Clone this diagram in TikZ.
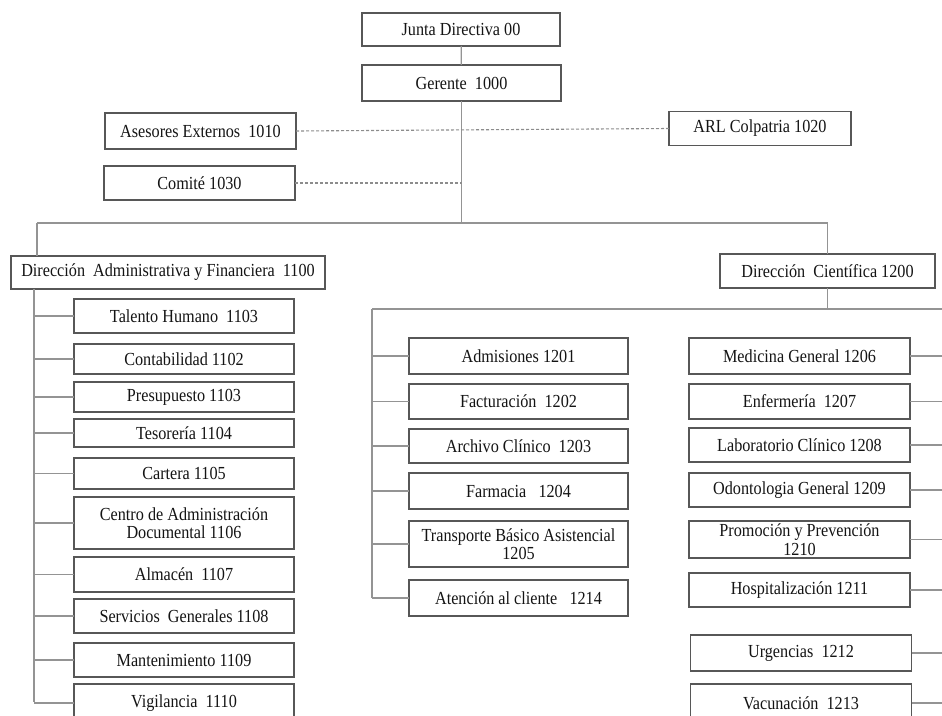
\documentclass[tikz,border=0pt]{standalone}
\usepackage{fontspec}
\setmainfont{Liberation Serif}[FakeStretch=0.88]
\begin{document}
\begin{tikzpicture}[x=1pt,y=-1pt,
  box/.style={draw=black!66,line width=1.8pt,fill=white,inner sep=0pt,outer sep=0pt,
    align=center,font=\fontsize{18.4}{18.5}\selectfont,text=black!92},
  conn/.style={draw=black!42,line width=1.3pt},
  dconn/.style={draw=black!45,line width=1.1pt,dash pattern=on 3pt off 2pt}]
\useasboundingbox (0,0) rectangle (942,715);
\clip (0,0) rectangle (942,715);
% top
\node[box,minimum width=198,minimum height=33] (junta) at (461,29.5) {Junta Directiva 00};
\node[box,minimum width=199,minimum height=36] (ger) at (461.5,83) {Gerente\ \ 1000};
\node[box,minimum width=191,minimum height=36] (ases) at (200.5,131) {Asesores Externos\ \ 1010};
\node[box,minimum width=182,minimum height=34] (arl) at (760,128.5) {ARL Colpatria 1020};
\node[box,minimum width=191,minimum height=34] (comite) at (199.5,183) {Comité 1030};
\node[box,minimum width=314,minimum height=33] (dadm) at (168,272.5) {Dirección\ \ Administrativa y Financiera\ \ 1100};
\node[box,minimum width=215,minimum height=34] (dcie) at (827.5,271) {Dirección\ \ Científica 1200};
% left column
\begin{scope}[every node/.style={box,minimum width=220}]
\node[minimum height=34] (th) at (184,316) {Talento Humano\ \ 1103};
\node[minimum height=30] (cont) at (184,359) {Contabilidad 1102};
\node[minimum height=30] (pres) at (184,397) {Presupuesto 1103};
\node[minimum height=28] (tes) at (184,433) {Tesorería 1104};
\node[minimum height=31] (cart) at (184,473.5) {Cartera 1105};
\node[minimum height=52] (cad) at (184,523) {Centro de Administración\\Documental 1106};
\node[minimum height=35] (alm) at (184,574.5) {Almacén\ \ 1107};
\node[minimum height=34] (sg) at (184,616) {Servicios\ \ Generales 1108};
\node[minimum height=34] (mant) at (184,660) {Mantenimiento 1109};
\node[minimum height=38] (vig) at (184,703) {Vigilancia\ \ 1110};
\end{scope}
% middle column
\begin{scope}[every node/.style={box,minimum width=219}]
\node[minimum height=36] (adm) at (518.5,356) {Admisiones 1201};
\node[minimum height=35] (fac) at (518.5,401.5) {Facturación\ \ 1202};
\node[minimum height=34] (arch) at (518.5,446) {Archivo Clínico\ \ 1203};
\node[minimum height=36] (farm) at (518.5,491) {Farmacia\ \ \ 1204};
\node[minimum height=46] (trans) at (518.5,544) {Transporte Básico Asistencial\\1205};
\node[minimum height=36] (aten) at (518.5,598) {Atención al cliente\ \ \ 1214};
\end{scope}
% right column
\begin{scope}[every node/.style={box,minimum width=221}]
\node[minimum height=36] (med) at (799.5,356) {Medicina General 1206};
\node[minimum height=35] (enf) at (799.5,401.5) {Enfermería\ \ 1207};
\node[minimum height=34] (lab) at (799.5,445) {Laboratorio Clínico 1208};
\node[minimum height=34] (odon) at (799.5,490) {Odontologia General 1209};
\node[minimum height=37] (prom) at (799.5,539.5) {Promoción y Prevención\\1210};
\node[minimum height=34] (hosp) at (799.5,590) {Hospitalización 1211};
\node[minimum height=36] (urg) at (801,653) {Urgencias\ \ 1212};
\node[minimum height=38] (vac) at (801,703) {Vacunación\ \ 1213};
\end{scope}
% coordinates
\coordinate (hub) at (ger.south |- 0,223);
\coordinate (lhub) at (37,223);
\coordinate (rhub) at (dcie.north |- 0,223);
\coordinate (lspine) at (34,702);
\coordinate (chub) at (dcie.south |- 0,309);
\coordinate (mtop) at (372,309);
\coordinate (mbot) at (372,598);
\coordinate (redge) at (942,309);
% connectors
\draw[conn] (junta) -- (ger);
\draw[conn] (ger.south) -- (hub);
\draw[conn] (lhub) -- (rhub);
\draw[conn] (lhub) -- (lhub |- dadm.north);
\draw[conn] (rhub) -- (dcie.north);
\draw[dconn] (ases.east) -- (arl.west);
\draw[dconn] (comite.east) -- (comite.east -| hub);
% left spine
\draw[conn] (dadm.south -| lspine) -- (lspine);
\foreach \n in {th,cont,pres,tes,cart,cad,alm,sg,mant,vig}
  \draw[conn] (\n.west -| lspine) -- (\n.west);
% middle/right
\draw[conn] (dcie.south) -- (chub);
\draw[conn] (mtop) -- (redge);
\draw[conn] (mtop) -- (mbot);
\foreach \n in {adm,fac,arch,farm,trans,aten}
  \draw[conn] (\n.west -| mtop) -- (\n.west);
\foreach \n in {med,enf,lab,odon,prom,hosp,urg,vac}
  \draw[conn] (\n.east) -- (\n.east -| redge);
\end{tikzpicture}
\end{document}
